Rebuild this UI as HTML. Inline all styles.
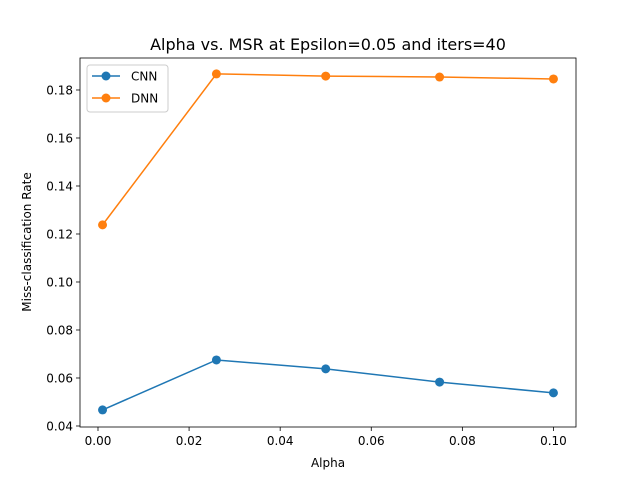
<!DOCTYPE html>
<html><head><meta charset="utf-8"><style>
body{margin:0;background:#fff;}
svg{display:block;font-family:"DejaVu Sans","Liberation Sans",sans-serif;}
</style></head><body>
<svg id="chart" width="640" height="480"></svg>
<script>
const alphas=[0.001,0.026,0.05,0.075,0.1];
const cnnValues=[0.0467,0.0675,0.0638,0.0583,0.0538];
const dnnValues=[0.1238,0.1867,0.1858,0.1854,0.1846];
const xTicks=[0.00,0.02,0.04,0.06,0.08,0.10];
const yTicks=[0.04,0.06,0.08,0.10,0.12,0.14,0.16,0.18];
const seriesNames=["CNN","DNN"];

const L=80,R=576,T=58,B=427;
const xMin=-0.00395,xMax=0.10495,yMin=0.03958,yMax=0.19333;
const sx=v=>L+(v-xMin)/(xMax-xMin)*(R-L);
const sy=v=>B-(v-yMin)/(yMax-yMin)*(B-T);
const svg=document.getElementById('chart');
const NS='http://www.w3.org/2000/svg';
function mk(tag,attrs,parent){const e=document.createElementNS(NS,tag);for(const k in attrs)e.setAttribute(k,attrs[k]);(parent||svg).appendChild(e);return e;}

const title=mk('text',{x:328,y:50,'text-anchor':'middle','font-size':16,fill:'#000'});
title.textContent='Alpha vs. MSR at Epsilon=0.05 and iters=40';



xTicks.forEach(t=>{
  const x=sx(t);
  const g=mk('g',{});
  
  
  mk('line',{x1:x,x2:x,y1:B,y2:B+4,stroke:'#000','stroke-width':0.8},g);
  const tx=mk('text',{x:x,y:B+18,'text-anchor':'middle','font-size':12},g);
  tx.textContent=t.toFixed(2);
});
yTicks.forEach(t=>{
  const y=sy(t);
  const g=mk('g',{});
  
  
  mk('line',{x1:L-4,x2:L,y1:y,y2:y,stroke:'#000','stroke-width':0.8},g);
  const tx=mk('text',{x:L-7,y:y+4.5,'text-anchor':'end','font-size':12},g);
  tx.textContent=t.toFixed(2);
});
const xl=mk('text',{x:328,y:467,'text-anchor':'middle','font-size':12});
xl.textContent='Alpha';


const yl=mk('text',{x:31,y:242,'text-anchor':'middle','font-size':12,transform:'rotate(-90 31 242)'});
yl.textContent='Miss-classification Rate';



const colors=['#1f77b4','#ff7f0e'];
[cnnValues,dnnValues].forEach((vals,i)=>{
  const g=mk('g',{});
  
  
  mk('polyline',{points:vals.map((v,j)=>sx(alphas[j])+','+sy(v)).join(' '),fill:'none',stroke:colors[i],'stroke-width':1.5},g);
  vals.forEach((v,j)=>{
    const c=mk('circle',{cx:sx(alphas[j]),cy:sy(v),r:4.5,fill:colors[i]},g);
    
    
  });
});

const frame=mk('rect',{x:L,y:T,width:R-L,height:B-T,fill:'none',stroke:'#000','stroke-width':0.8});



const lg=mk('g',{});


mk('rect',{x:87,y:65,width:81,height:47,rx:3,fill:'#fff',stroke:'#ccc','stroke-width':1},lg);
seriesNames.forEach((n,i)=>{
  const y=76+i*22;
  const e=mk('g',{},lg);
  
  
  mk('line',{x1:92,x2:120,y1:y,y2:y,stroke:colors[i],'stroke-width':1.5},e);
  mk('circle',{cx:106,cy:y,r:4.5,fill:colors[i]},e);
  const t=mk('text',{x:131,y:y+4.5,'font-size':12},e);
  t.textContent=n;
});
</script>
</body></html>
